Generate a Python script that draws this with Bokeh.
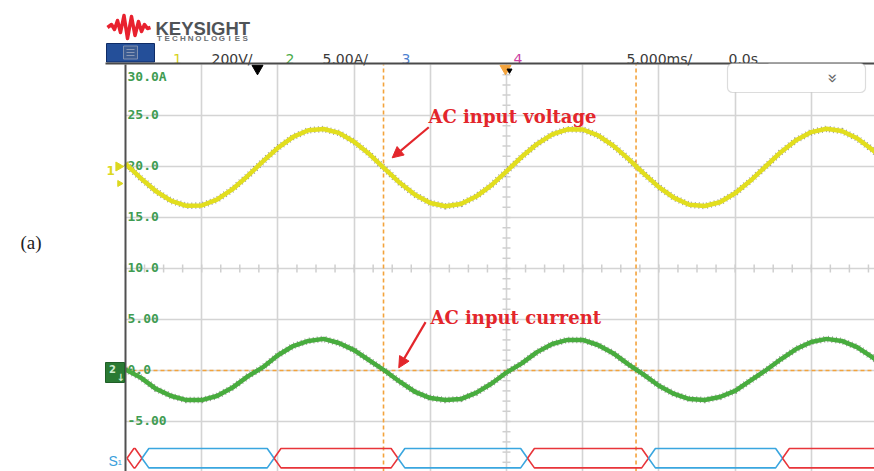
import numpy as np
from bokeh.plotting import figure
from bokeh.models import (Range1d, Grid, FixedTicker, Label, Arrow, NormalHead,
                          BoxAnnotation)
from bokeh.core.properties import value
from bokeh.embed import file_html
from bokeh.resources import INLINE

time_ms = list(range(-25, 26))
ch1_voltage_v = [15, -42, -93, -131, -150, -149, -126, -86, -34, 23,
                 77, 120, 146, 151, 136, 101, 53, -4, -60, -107,
                 -139, -152, -143, -114, -70, -15, 42, 92, 130, 150,
                 149, 126, 86, 34, -23, -77, -119, -146, -151, -136,
                 -101, -52, 4, 60, 107, 139, 152, 143, 115, 70, 15]
ch2_current_a = [0.1, -0.7, -1.8, -2.5, -2.9, -2.9, -2.5, -1.7, -0.6, 0.3,
                 1.5, 2.4, 2.9, 3.1, 2.7, 2.0, 1.0, 0.0, -1.1, -2.1,
                 -2.7, -2.9, -2.8, -2.2, -1.3, -0.2, 0.7, 1.8, 2.6, 3.0,
                 3.0, 2.5, 1.7, 0.6, -0.4, -1.5, -2.3, -2.8, -2.9, -2.6,
                 -2.0, -1.0, 0.0, 1.1, 2.1, 2.8, 3.1, 2.9, 2.3, 1.3, 0.2]
y_tick_values = [30, 25, 20, 15, 10, 5, 0, -5]
y_tick_labels = ["30.0A", "25.0", "20.0", "15.0", "10.0", "5.00", "0.0", "-5.00"]
time_grid_ms = [-20, -15, -10, -5, 0, 5, 10, 15, 20]
amp_grid_a = [-5, 0, 5, 10, 15, 20, 25]
bus_edges_ms = [-24.9, -23.92, -15.25, -7.12, 1.38, 9.32, 18.11, 27.0]
bus_levels = [0, 1, 0, 1, 0, 1, 0]
cursor_times_ms = [-8.07, 8.50]
cursor_level_a = 0.0

header_texts = ["1", "200V/", "2", "5.00A/", "3", "4", "5.000ms/", "0.0s"]

VOLTS_PER_DIV = 200
AMPS_PER_DIV = 5
CH1_GROUND_A = 19.9

# ---------------- geometry of the page ----------------
W, H = 874, 471
SCR_LEFT_PX, SCR_TOP_PX = 125, 64          # scope screen corner on the page
PX_PER_MS = 76.2 / 5                        # 5 ms / div
PX_PER_A = 51.0 / AMPS_PER_DIV              # 5 A / div
T_LEFT, A_TOP = -25.0, 30.0                 # values at the screen corner
t_rng = Range1d(T_LEFT - SCR_LEFT_PX / PX_PER_MS, T_LEFT + (W - SCR_LEFT_PX) / PX_PER_MS)
a_rng = Range1d(A_TOP - (H - SCR_TOP_PX) / PX_PER_A, A_TOP + SCR_TOP_PX / PX_PER_A)
v_rng = Range1d((a_rng.start - CH1_GROUND_A) / AMPS_PER_DIV * VOLTS_PER_DIV,
                (a_rng.end - CH1_GROUND_A) / AMPS_PER_DIV * VOLTS_PER_DIV)
T_END = t_rng.end
A_BOT = a_rng.start

RED = "#E3262B"
GRID = "#d4d4d4"
ORANGE = "#F3A33C"
YEL = "#E2DE1E"
GRN = "#48AC3E"

p = figure(width=W, height=H, x_range=Range1d(0, W), y_range=Range1d(H, 0),
           output_backend="svg", toolbar_location=None, min_border=0,
           x_axis_location=None, y_axis_location=None, outline_line_color=None)
p.grid.visible = False          # default page-pixel grids are not wanted
p.extra_x_ranges = {"t": t_rng}
p.extra_y_ranges = {"amp": a_rng, "volt": v_rng}
S = dict(x_range_name="t", y_range_name="amp")

# ---------------- header (page pixel coordinates) ----------------
p.line([107, 111, 114, 117, 120, 123.5, 127, 131, 134.5, 138, 141, 144, 147, 150],
       [27, 24, 29, 20, 32, 15, 38, 16, 35, 21, 31, 24, 28, 27],
       line_color="#E8212E", line_width=3.5, line_join="round")
p.text(x=[155], y=[27.5], text=["KEYSIGHT"], text_font=value("Liberation Sans"),
       text_font_style="bold", text_font_size=value("18.5px"), text_color="#4f5357",
       text_baseline="alphabetic")
tech = list("TECHNOLOGIES")
p.text(x=[158.9 + 7.8 * i for i in range(len(tech))], y=[37.5] * len(tech), text=tech,
       text_font=value("Liberation Sans"), text_font_style="bold",
       text_font_size=value("8px"), text_color="#6a6e72", text_align="center",
       text_baseline="alphabetic")
p.quad(left=[106], right=[154], top=[43], bottom=[61.5], fill_color="#244f99",
       line_color="#0f2c66", line_width=1)
p.quad(left=[123], right=[137], top=[45.5], bottom=[58.5], fill_color="#3c5c92",
       line_color="#8090b0", line_width=1)
p.multi_line([[126, 134], [126, 134], [126, 134]], [[49, 49], [52, 52], [55, 55]],
             line_color="#8a98b5", line_width=1)
p.text(x=[172.5, 211, 285, 322, 401, 513, 626, 728], y=[58] * 8, text=header_texts,
       text_color=["#d6d21c", "#3a3a3a", "#4aab4a", "#3a3a3a", "#4c7fd0", "#cc3fa3",
                   "#3a3a3a", "#3a3a3a"],
       text_font=value("DejaVu Sans"), text_font_size=value("14px"),
       text_baseline="alphabetic")

# ---------------- scope screen ----------------
p.add_layout(Grid(dimension=0, ticker=FixedTicker(ticks=time_grid_ms),
                  cross_bounds=(A_BOT, A_TOP), grid_line_color=GRID,
                  grid_line_width=1.6, **S))
p.add_layout(Grid(dimension=1, ticker=FixedTicker(ticks=amp_grid_a),
                  cross_bounds=(T_LEFT, T_END), grid_line_color=GRID,
                  grid_line_width=1.6, **S))

minor_t = list(np.arange(T_LEFT, T_END, 1.25))
minor_a = list(range(-9, 30))
p.scatter(minor_t, [10] * len(minor_t), marker="dash", angle=np.pi / 2, size=8,
          line_color="#cfcfcf", line_width=1.5, **S)
p.scatter([0] * len(minor_a), minor_a, marker="dash", size=8,
          line_color="#cfcfcf", line_width=1.5, **S)

# cursors
p.segment(x0=cursor_times_ms, y0=[A_BOT] * 2, x1=cursor_times_ms, y1=[A_TOP] * 2,
          line_color=ORANGE, line_dash="4 3", line_width=1.6, **S)
p.segment(x0=[T_LEFT], y0=[cursor_level_a], x1=[T_END], y1=[cursor_level_a],
          line_color=ORANGE, line_dash="4 3", line_width=1.6, **S)

# y labels
p.text(x=[T_LEFT] * len(y_tick_values), y=y_tick_values, text=y_tick_labels,
       x_offset=2, y_offset=[11.5] + [-1.5] * (len(y_tick_values) - 1),
       text_font=value("DejaVu Sans Mono"), text_font_style="bold",
       text_font_size=value("13px"), text_color="#3f9c52", text_baseline="alphabetic",
       **S)

# traces
p.line(time_ms, ch1_voltage_v, x_range_name="t", y_range_name="volt",
       line_color="#1e1e1e", line_width=6.5, line_dash="1 3", line_alpha=0.45)
p.line(time_ms, ch1_voltage_v, x_range_name="t", y_range_name="volt",
       line_color=YEL, line_width=4.5)
p.line(time_ms, ch2_current_a, line_color="#1e1e1e", line_width=6.5, line_dash="1 3",
       line_alpha=0.45, **S)
p.line(time_ms, ch2_current_a, line_color=GRN, line_width=4.5, **S)

# serial bus S1
BUS_TOP, BUS_BOT = -7.65, -9.55
bus_mid = (BUS_TOP + BUS_BOT) / 2
xs, ys, cols = [], [], []
for a, b, lev in zip(bus_edges_ms[:-1], bus_edges_ms[1:], bus_levels):
    d = min(0.45, (b - a) / 2)
    xs.append([a, a + d, b - d, b, b - d, a + d, a])
    ys.append([bus_mid, BUS_TOP, BUS_TOP, bus_mid, BUS_BOT, BUS_BOT, bus_mid])
    cols.append("#E8353A" if lev == 0 else "#3AA6DF")
p.multi_line(xs, ys, line_color=cols, line_width=1.6, **S)

# screen border lines
p.segment(x0=[T_LEFT], y0=[A_BOT], x1=[T_LEFT], y1=[A_TOP], line_color="#505050",
          line_width=2, **S)
p.line([105, W], [63, 63], line_color="#4a4a4a", line_width=2)
p.line([757, 768], [64, 64], line_color="black", line_width=3)

# trigger / position markers (page coordinates)
p.scatter([505], [68], marker="inverted_triangle", size=11, fill_color=ORANGE,
          line_color=ORANGE)
p.scatter([509], [70], marker="inverted_triangle", size=5, fill_color="black",
          line_color="black")
p.scatter([257], [68], marker="inverted_triangle", size=11, fill_color="black",
          line_color="black")

# menu box top right
p.add_layout(BoxAnnotation(left=727, right=865, top=63, bottom=92,
                           fill_color="white", fill_alpha=1, line_color="#8a8a8a",
                           line_width=1.2, border_radius=5))
p.add_layout(Label(x=832, y=78, text="»", angle=-np.pi / 2, text_color="#666666",
                   text_font="DejaVu Sans", text_font_size="17px", text_align="center",
                   text_baseline="middle"))

# channel markers at the left of the screen
p.text(x=[106], y=[170], text=["1"], text_color="#dcd820",
       text_font=value("DejaVu Sans"), text_font_style="bold",
       text_font_size=value("12px"), text_baseline="alphabetic")
p.scatter([118, 119], [166, 183], marker="triangle", angle=-np.pi / 2, size=[9, 6],
          fill_color="#dcd820", line_color="#dcd820")
p.quad(left=[105], right=[124], top=[362], bottom=[382], fill_color="#2a7a33",
       line_color="#1f5e27", line_width=1)
p.text(x=[108.5, 116], y=[368, 377], text=["2", "↓"], text_color="#cfeccf",
       text_font=value("DejaVu Sans"), text_font_style="bold",
       text_font_size=value("10px"), text_baseline="middle")
p.text(x=[108], y=[460], text=["S"], text_color="#3aa0dc",
       text_font=value("Liberation Sans"), text_font_size=value("14px"),
       text_baseline="alphabetic")
p.text(x=[117], y=[462], text=["1"], text_color="#3aa0dc",
       text_font=value("Liberation Sans"), text_font_size=value("8px"),
       text_baseline="alphabetic")
p.text(x=[20], y=[242], text=["(a)"], text_color="#222222",
       text_font=value("Liberation Serif"), text_font_size=value("19px"),
       text_baseline="middle")

# annotations on the screen
p.add_layout(Label(x=-5.12, y=24.9, text="AC  input voltage", text_color=RED,
                   text_font="DejaVu Serif", text_font_style="bold",
                   text_font_size="18px", text_baseline="alphabetic", **S))
p.add_layout(Arrow(x_start=-5.10, y_start=23.85, x_end=-7.50, y_end=20.85,
                   line_color=RED, line_width=2.2,
                   end=NormalHead(size=11, fill_color=RED, line_color=RED), **S))
p.add_layout(Label(x=-4.99, y=5.23, text="AC  input current", text_color=RED,
                   text_font="DejaVu Serif", text_font_style="bold",
                   text_font_size="18px", text_baseline="alphabetic", **S))
p.add_layout(Arrow(x_start=-5.31, y_start=4.74, x_end=-7.07, y_end=0.26,
                   line_color=RED, line_width=2.2,
                   end=NormalHead(size=11, fill_color=RED, line_color=RED), **S))

open("out.html", "w").write(file_html(p, INLINE))
